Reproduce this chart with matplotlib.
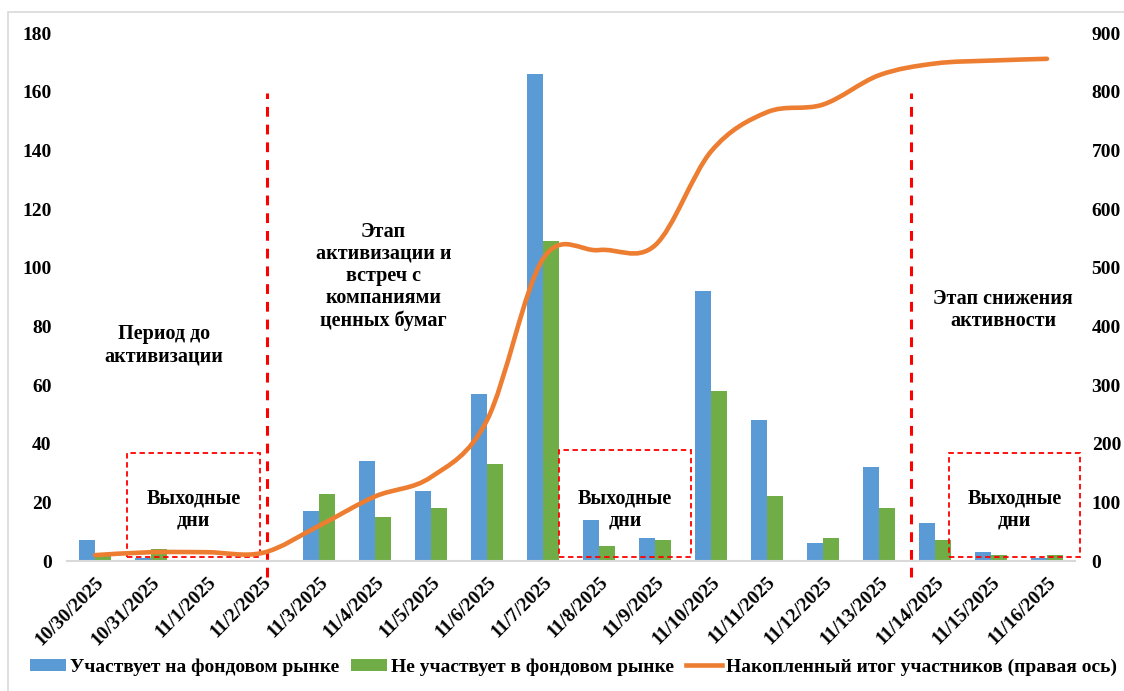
import matplotlib
matplotlib.use("Agg")
import matplotlib.pyplot as plt
from matplotlib.path import Path
from matplotlib.patches import PathPatch, Rectangle, Patch
from matplotlib.lines import Line2D
import numpy as np

# ---- data ----
dates = ["10/30/2025", "10/31/2025", "11/1/2025", "11/2/2025", "11/3/2025",
         "11/4/2025", "11/5/2025", "11/6/2025", "11/7/2025", "11/8/2025",
         "11/9/2025", "11/10/2025", "11/11/2025", "11/12/2025", "11/13/2025",
         "11/14/2025", "11/15/2025", "11/16/2025"]
in_market = [7, 1, 0, 0, 17, 34, 24, 57, 166, 14, 8, 92, 48, 6, 32, 13, 3, 1]
not_in_market = [2, 4, 0, 0, 23, 15, 18, 33, 109, 5, 7, 58, 22, 8, 18, 7, 2, 2]
cumulative = [10, 15, 15, 14, 60, 110, 143, 240, 515, 530, 538, 698, 765,
              778, 828, 848, 853, 856]

label_in = "Участвует на фондовом рынке"
label_out = "Не участвует в фондовом рынке"
label_cum = "Накопленный итог участников (правая ось)"

BLUE = "#5B9BD5"
GREEN = "#70AD47"
ORANGE = "#ED7D31"
RED = "#FF0000"
FONT = "Liberation Serif"

plt.rcParams["font.family"] = [FONT, "DejaVu Serif"]
plt.rcParams["font.weight"] = "bold"

W, H = 1124, 691
fig = plt.figure(figsize=(W / 100, H / 100), dpi=100)

# outer chart frame
fig.patches.append(Rectangle((8 / W, -0.01), 1.0, (H - 12) / H + 0.01,
                             transform=fig.transFigure, fill=False,
                             edgecolor="#D9D9D9", linewidth=1.2))

ax = fig.add_axes([67 / W, 1 - 561 / H, 1008 / W, 528 / H])
ax2 = ax.twinx()

x = np.arange(len(dates))
bw = 0.285
ax.bar(x - bw / 2, in_market, width=bw, color=BLUE, label=label_in, zorder=2)
ax.bar(x + bw / 2, not_in_market, width=bw, color=GREEN, label=label_out, zorder=2)

ax.set_xlim(-0.5, len(dates) - 0.5)
ax.set_ylim(0, 180)
ax.set_yticks(np.arange(0, 181, 20))
ax2.set_ylim(0, 900)
ax2.set_yticks(np.arange(0, 901, 100))

for a in (ax, ax2):
    for s in ("top", "left", "right"):
        a.spines[s].set_visible(False)
    a.spines["bottom"].set_color("#D9D9D9")
    a.spines["bottom"].set_linewidth(1.5)
ax2.spines["bottom"].set_visible(False)

ax.tick_params(axis="y", length=0, pad=11, labelsize=14)
ax2.tick_params(axis="y", length=0, pad=12, labelsize=14)
for lab in ax.get_yticklabels() + ax2.get_yticklabels():
    lab.set_fontweight("bold")
ax.set_xticks(x)
ax.set_xticklabels(dates, rotation=45, ha="right", va="top",
                   rotation_mode="anchor", fontsize=14, fontweight="bold")
ax.tick_params(axis="x", length=0, pad=9)

# smoothed cumulative line (cubic Bezier through every point)
pts = np.column_stack([x, cumulative]).astype(float)
verts = [tuple(pts[0])]
codes = [Path.MOVETO]
n = len(pts)
for i in range(n - 1):
    p0 = pts[i - 1] if i > 0 else pts[i]
    p1 = pts[i]
    p2 = pts[i + 1]
    p3 = pts[i + 2] if i + 2 < n else pts[i + 1]
    c1 = p1 + (p2 - p0) / 6.0
    c2 = p2 - (p3 - p1) / 6.0
    verts += [tuple(c1), tuple(c2), tuple(p2)]
    codes += [Path.CURVE4] * 3
ax2.add_patch(PathPatch(Path(verts, codes), facecolor="none", edgecolor=ORANGE,
                        linewidth=3.3, capstyle="round", zorder=3))

# phase separators
for xv in (3.07, 14.57):
    ax.plot([xv, xv], [-5.5, 159.6], color=RED, linewidth=2.2,
            linestyle=(0, (3.2, 2.6)), clip_on=False, zorder=4)

# weekend boxes
for x0, x1, y1 in ((0.57, 2.95, 36.8), (8.29, 10.64, 37.8), (15.25, 17.59, 36.8)):
    ax.add_patch(Rectangle((x0, 1.3), x1 - x0, y1 - 1.3, fill=False,
                           edgecolor=RED, linewidth=1.3, linestyle=(0, (3, 2)),
                           clip_on=False, zorder=4))
    ax.text((x0 + x1) / 2, 17.5, "Выходные\nдни", ha="center", va="center",
            fontsize=14.5, fontweight="bold", linespacing=1.15, zorder=5)

ax.text(1.23, 73.5, "Период до\nактивизации", ha="center", va="center",
        fontsize=14.5, fontweight="bold", linespacing=1.15)
ax.text(5.15, 97, "Этап\nактивизации и\nвстреч с\nкомпаниями\nценных бумаг",
        ha="center", va="center", fontsize=14.5, fontweight="bold",
        linespacing=1.15)
ax.text(16.22, 85.5, "Этап снижения\nактивности", ha="center", va="center",
        fontsize=14.5, fontweight="bold", linespacing=1.15)

handles = [Patch(facecolor=BLUE, label=label_in),
           Patch(facecolor=GREEN, label=label_out),
           Line2D([0], [0], color=ORANGE, linewidth=3.3, label=label_cum)]
fig.legend(handles=handles, loc="center", bbox_to_anchor=(573.5 / W, 1 - 667 / H),
           ncol=3, frameon=False, handlelength=1.85, handleheight=0.55,
           columnspacing=0.62, handletextpad=0.2, borderpad=0, borderaxespad=0,
           prop={"family": FONT, "weight": "bold", "size": 14})

fig.savefig("out.png", dpi=100)
